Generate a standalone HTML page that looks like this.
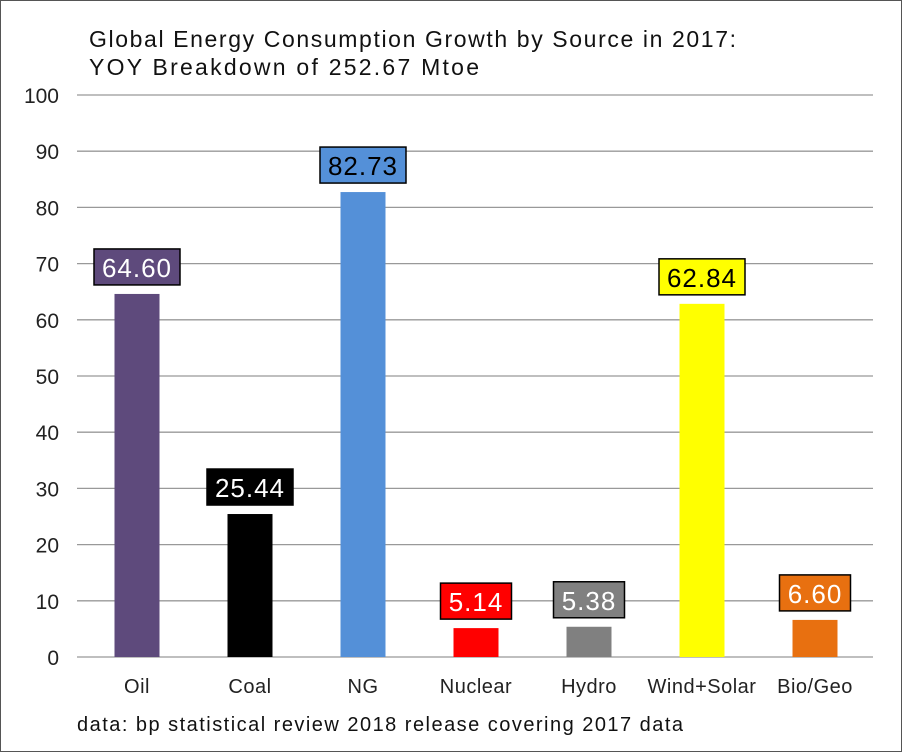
<!DOCTYPE html>
<html><head><meta charset="utf-8"><style>
body{margin:0;background:#fff}
#c{position:relative;width:900px;height:750px;border:1px solid #555;background:#fff;overflow:hidden;font-family:"Liberation Sans",sans-serif}
svg{position:absolute;left:0;top:0}
</style></head><body>
<div id="c">
<svg id="s" width="900" height="750"></svg>
</div>
<script>
const categories=["Oil","Coal","NG","Nuclear","Hydro","Wind+Solar","Bio/Geo"];
const values=[64.60,25.44,82.73,5.14,5.38,62.84,6.60];
const fills=["#5e4a7c","#000000","#5490d8","#ff0000","#808080","#ffff00","#e87010"];
const labelTextColors=["#fff","#fff","#000","#fff","#fff","#000","#fff"];
const yTicks=[0,10,20,30,40,50,60,70,80,90,100];
const NS="http://www.w3.org/2000/svg";
const s=document.getElementById('s');
const y0=656,yTop=94,yMax=100;
function y(v){return y0-(v/yMax)*(y0-yTop);}
function xc(i){return 136+i*113;}
function el(t,a,p){const e=document.createElementNS(NS,t);for(const k in a)e.setAttribute(k,a[k]);(p||s).appendChild(e);return e;}
let t1=el('text',{x:88,y:46,'font-size':23,fill:'#111',textLength:647,lengthAdjust:'spacing'});t1.textContent="Global Energy Consumption Growth by Source in 2017:";


let t2=el('text',{x:88,y:74,'font-size':23,fill:'#111',textLength:390,lengthAdjust:'spacing'});t2.textContent="YOY Breakdown of 252.67 Mtoe";


yTicks.forEach(v=>{
 const g=el('line',{x1:76,x2:872,y1:y(v),y2:y(v),stroke:'#999','stroke-width':1.3});
 
 
 const l=el('text',{x:58,y:y(v)+8,'font-size':21,'text-anchor':'end',fill:'#222'});l.textContent=v;
 
 
});
categories.forEach((c,i)=>{
 const bw=45,yt=y(values[i]);
 const b=el('rect',{x:xc(i)-bw/2,y:yt,width:bw,height:y0-yt,fill:fills[i]});
 
 
 const cl=el('text',{x:xc(i),y:692,'font-size':20,'text-anchor':'middle',fill:'#222','letter-spacing':0.5});cl.textContent=c;
 
 
 const txt=values[i].toFixed(2);
 const w=txt.length*15+11;
 const bx=el('rect',{x:xc(i)-w/2,y:yt-45,width:w,height:36,fill:fills[i],stroke:'#000','stroke-width':1.5});
 
 
 const vt=el('text',{x:xc(i),y:yt-17,'font-size':26,'text-anchor':'middle',fill:labelTextColors[i],'letter-spacing':1});vt.textContent=txt;
 
 
});
let src=el('text',{x:76,y:730,'font-size':20,fill:'#111',textLength:606,lengthAdjust:'spacing'});src.textContent="data: bp statistical review 2018 release covering 2017 data";


</script>
</body></html>
